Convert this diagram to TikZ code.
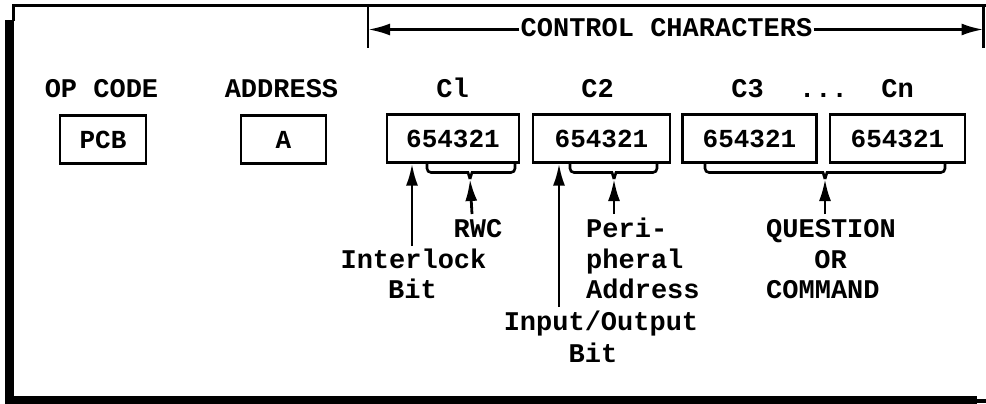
\documentclass[tikz,border=0pt]{standalone}
\usepackage{fontspec}
\setmonofont{Liberation Mono}
\usetikzlibrary{arrows.meta}
\begin{document}
\begin{tikzpicture}[x=1pt,y=-1pt,
  txt/.style={font=\ttfamily\bfseries\fontsize{27}{31}\selectfont, inner sep=0pt, anchor=base},
  cbox/.style={draw, line width=2.2pt, minimum height=48pt, inner sep=0pt,
    font=\ttfamily\bfseries\fontsize{26}{31}\selectfont},
  brace/.style={line width=2.6pt, rounded corners=4pt},
  arr/.style={line width=2.8pt, -{Latex[length=22pt,width=12pt]}},
  frame thin/.style={line width=3pt},
  frame thick/.style={line width=9pt},
]
\useasboundingbox (0,0) rectangle (986,404);
% frame
\draw[frame thin] (13.5,21) -- (13.5,5.5) -- (986,5.5);
\draw[frame thick] (9.5,20) -- (9.5,400) -- (977,400);
\draw[line width=3.5pt] (977,401) -- (986,401);

% header labels
\node[txt] (opc) at (101.5,97) {OP CODE};
\node[txt] (adr) at (281.5,97) {ADDRESS};
\node[txt] (lc1) at (452.5,97) {Cl};
\node[txt] (lc2) at (597.5,97) {C2};
\node[txt] (lc3) at (747.5,97) {C3};
\node[txt] (dots) at (823.5,97) {...};
\node[txt] (lcn) at (897.5,97) {Cn};

% boxes
\node[cbox, minimum width=86pt]  (pcb) at (103,139.5) {PCB};
\node[cbox, minimum width=85pt]  (a)   at (283.5,139.5) {A};
\node[cbox, minimum width=132pt] (c1)  at (453,138.5) {654321};
\node[cbox, minimum width=137pt] (c2)  at (601.5,138.5) {654321};
\node[cbox, minimum width=134pt] (c3)  at (749.5,138.5) {654321};
\node[cbox, minimum width=135pt] (cn)  at (897.5,138.5) {654321};

% control characters span
\coordinate (bl1) at (368,5.5);
\coordinate (bl2) at (368,48);
\coordinate (br1) at (983.5,5.5);
\coordinate (br2) at (983.5,48);
\draw[line width=2.8pt] (bl1) -- (bl2);
\draw[line width=2.8pt] (br1) -- (br2);
\node[txt, fill=white, inner xsep=1pt] (cc) at (666.5,37) {CONTROL CHARACTERS};
\coordinate (al) at (368,29.5);
\coordinate (ar) at (983.5,29.5);
\draw[arr] (cc.west |- al) -- (al);
\draw[arr] (cc.east |- ar) -- (ar);

% braces
\coordinate (t1) at (470,179);
\coordinate (t2) at (614,179);
\coordinate (t3) at (825,179);
\draw[brace] (427,162) |- (464,172.5) .. controls (468,172.5) .. (t1);
\draw[brace] (515,162) |- (476,172.5) .. controls (472,172.5) .. (t1);
\draw[brace] (570,162) |- (608,172.5) .. controls (612,172.5) .. (t2);
\draw[brace] (657,162) |- (620,172.5) .. controls (616,172.5) .. (t2);
\draw[brace] (705,162) |- (819,172.5) .. controls (823,172.5) .. (t3);
\draw[brace] (945,162) |- (831,172.5) .. controls (827,172.5) .. (t3);

% lower labels
\node[txt] (rwc) at (478,237) {RWC};
\node[txt] (il1) at (413.5,268) {Interlock};
\node[txt] (il2) at (412.5,298) {Bit};
\node[txt, anchor=base west] (pa1) at (586,237) {Peri-};
\node[txt, anchor=base west] (pa2) at (586,268) {pheral};
\node[txt, anchor=base west] (pa3) at (586,298) {Address};
\node[txt] (io1) at (601,330) {Input/Output};
\node[txt] (io2) at (593,362) {Bit};
\node[txt, anchor=base west] (q1) at (766,237) {QUESTION};
\node[txt] (q2) at (830.5,268) {OR};
\node[txt, anchor=base west] (q3) at (766,298) {COMMAND};

% arrows
\coordinate (rwcT) at (472,214);
\coordinate (paT) at (614,214);
\coordinate (qT) at (825,214);
\draw[arr] (rwcT) -- (t1);
\draw[arr] (paT) -- (t2);
\draw[arr] (qT) -- (t3);
\coordinate (ilT) at (412,246);
\coordinate (ioT) at (559,307);
\draw[arr] (ilT) -- (ilT |- c1.south);
\draw[arr] (ioT) -- (ioT |- c2.south);
\end{tikzpicture}
\end{document}
